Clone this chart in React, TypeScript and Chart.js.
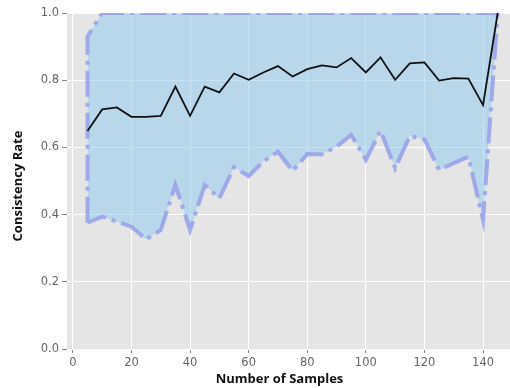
import React, { useEffect, useRef } from "react";
import { Chart, registerables } from "chart.js";

Chart.register(...registerables);

const samples = [5, 10, 15, 20, 25, 30, 35, 40, 45, 50, 55, 60, 65, 70, 75, 80, 85, 90, 95, 100, 105, 110, 115, 120, 125, 130, 135, 140, 145];
const meanRate = [0.649, 0.713, 0.719, 0.691, 0.691, 0.694, 0.781, 0.694, 0.781, 0.764, 0.82, 0.801, 0.823, 0.842, 0.811, 0.833, 0.844, 0.838, 0.866, 0.823, 0.868, 0.801, 0.85, 0.853, 0.799, 0.806, 0.805, 0.726, 1.0];
const lowerRate = [0.376, 0.394, 0.379, 0.364, 0.326, 0.354, 0.488, 0.354, 0.488, 0.448, 0.541, 0.515, 0.558, 0.587, 0.53, 0.58, 0.579, 0.602, 0.637, 0.563, 0.65, 0.538, 0.634, 0.624, 0.533, 0.553, 0.572, 0.384, 1.0];
const upperRate = [0.93, 1.0, 1.0, 1.0, 1.0, 1.0, 1.0, 1.0, 1.0, 1.0, 1.0, 1.0, 1.0, 1.0, 1.0, 1.0, 1.0, 1.0, 1.0, 1.0, 1.0, 1.0, 1.0, 1.0, 1.0, 1.0, 1.0, 1.0, 1.0];
const yTicks = [0, 0.2, 0.4, 0.6, 0.8, 1.0];
const xTitle = "Number of Samples";
const yTitle = "Consistency Rate";

const titleFontCss = "bold 13px 'Open Sans'";

const plotBg = {
  id: "plotBg",
  beforeDraw(chart: any) {
    const { ctx, chartArea } = chart;
    ctx.save();
    ctx.fillStyle = "#e5e5e5";
    ctx.fillRect(chartArea.left, chartArea.top, chartArea.right - chartArea.left, chartArea.bottom - chartArea.top);
    ctx.restore();
  },
};

const axisTitles = {
  id: "axisTitles",
  afterDraw(chart: any) {
    const { ctx } = chart;
    ctx.save();
    ctx.font = titleFontCss;
    ctx.fillStyle = "#111111";
    ctx.textAlign = "center";
    ctx.textBaseline = "alphabetic";
    ctx.fillText(xTitle, 279.5, 383);
    ctx.translate(21.5, 186);
    ctx.rotate(-Math.PI / 2);
    ctx.fillText(yTitle, 0, 0);
    ctx.restore();
  },
};

export default function App() {
  const ref = useRef<HTMLCanvasElement | null>(null);
  useEffect(() => {
    if (!ref.current) return;
    const pts = (ys: number[]) => samples.map((x, i) => ({ x, y: ys[i] }));
    const outline = [
      { x: samples[0], y: lowerRate[0] },
      ...pts(upperRate),
      ...pts(lowerRate).reverse(),
    ];
    const tickFont = { family: "DejaVu Sans", size: 11.5 };
    const chart = new Chart(ref.current, {
      type: "line",
      data: {
        datasets: [
          {
            data: pts(meanRate),
            borderColor: "#111111",
            borderWidth: 1.8,
            pointRadius: 0,
            fill: false,
            order: 0,
            clip: 0,
          },
          {
            data: outline,
            borderColor: "rgba(150,160,232,0.85)",
            borderWidth: 4,
            borderDash: [26, 6, 4, 6],
            borderCapStyle: "butt",
            pointRadius: 0,
            fill: false,
            order: 1,
            clip: 0,
          },
          {
            data: pts(upperRate),
            borderWidth: 0,
            pointRadius: 0,
            backgroundColor: "rgba(139,201,239,0.5)",
            fill: "+1",
            order: 2,
            clip: 0,
          },
          {
            data: pts(lowerRate),
            borderWidth: 0,
            pointRadius: 0,
            fill: false,
            order: 3,
            clip: 0,
          },
        ] as any,
      },
      options: {
        animation: false,
        responsive: false,
        events: [],
        layout: { padding: { top: 13, left: 0, right: 0, bottom: 0 } },
        plugins: { legend: { display: false }, tooltip: { enabled: false } },
        scales: {
          x: {
            type: "linear",
            min: -2,
            max: 149.2,
            border: { display: false },
            grid: { color: "#ffffff", lineWidth: 1, tickColor: "#888888", tickLength: 4 },
            ticks: { stepSize: 20, includeBounds: false, font: tickFont, color: "#666666", padding: 3 },
            title: { display: false, text: xTitle },
            afterFit: (s: any) => {
              s.height = 39;
            },
          },
          y: {
            type: "linear",
            min: 0,
            max: 1,
            border: { display: false },
            grid: { color: "#ffffff", lineWidth: 1, tickColor: "#888888", tickLength: 5 },
            afterBuildTicks: (s: any) => {
              s.ticks = yTicks.map((v) => ({ value: v }));
            },
            ticks: { font: tickFont, color: "#666666", padding: 3, callback: (v: any) => Number(v).toFixed(1) },
            title: { display: false, text: yTitle },
            afterFit: (s: any) => {
              s.width = 67;
            },
          },
        },
      } as any,
      plugins: [plotBg, axisTitles],
    });
    return () => chart.destroy();
  }, []);
  return (
    <div style={{ position: "fixed", left: 0, top: 0, width: 510, height: 388, background: "#ffffff" }}>
      <canvas ref={ref} width={510} height={388} style={{ width: 510, height: 388, display: "block" }} />
    </div>
  );
}
